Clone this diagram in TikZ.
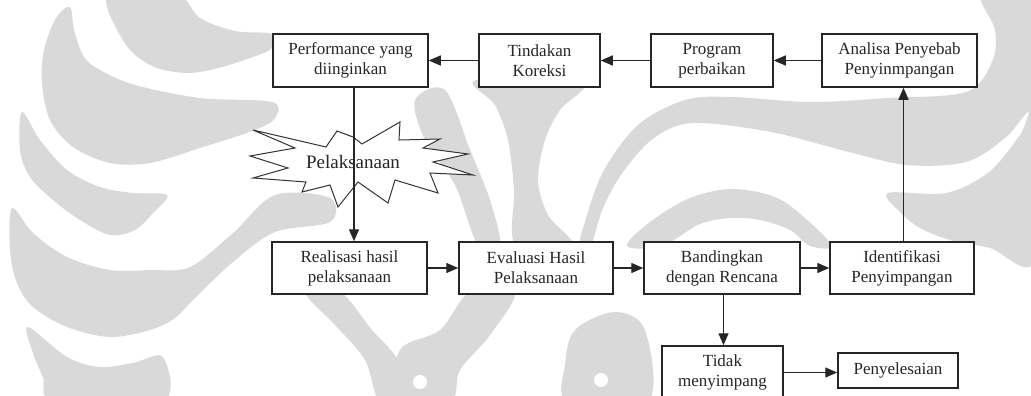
\documentclass[tikz,border=0pt]{standalone}
\usepackage{fontspec}
\setmainfont{Liberation Serif}
\usetikzlibrary{arrows.meta,calc}
\begin{document}
\begin{tikzpicture}[x=1pt,y=-1pt,
  box/.style={draw=black!85,line width=1.5pt,fill=white,inner sep=0pt,align=center,
    text=black!85,font=\fontsize{17}{20}\selectfont},
  flow/.style={draw=black!85,line width=1.4pt,-{Triangle[length=12pt,width=10pt]}},
  burst/.style={draw=black!80,line width=1pt,fill=white,line join=miter},
  wm/.style={fill=black!15,draw=none}]
\useasboundingbox (0,0) rectangle (1031,396);
\clip (0,0) rectangle (1031,396);
\fill[white] (0,0) rectangle (1031,396);

% light grey emblem in the background
\fill[wm] plot[smooth cycle,tension=0.55] coordinates {(108,-6) (176,-6) (200,18) (235,31)
  (272,34) (272,48) (253,57) (218,68) (187,73) (152,66) (124,42)};
\fill[wm] plot[smooth cycle,tension=0.55] coordinates {(70,7) (56,18) (44,50) (42,83)
  (50,120) (73,147) (110,163) (150,163) (200,148) (255,130) (275,118) (272,102) (200,98)
  (135,85) (100,70) (84,57) (74,30)};
\fill[wm] plot[smooth cycle,tension=0.55] coordinates {(22,112) (20,150) (30,177) (53,200)
  (80,220) (110,235) (135,230) (153,213) (167,195) (133,193) (100,187) (67,170) (40,140)};
\fill[wm] plot[smooth cycle,tension=0.55] coordinates {(12,208) (10,250) (17,283) (33,307)
  (67,327) (110,337) (150,330) (175,318) (195,298) (233,262) (275,232) (330,222) (330,198)
  (275,195) (233,233) (190,267) (150,270) (110,270) (67,257) (33,233)};
\fill[wm] plot[smooth cycle,tension=0.55] coordinates {(28,327) (33,353) (43,377) (55,402)
  (162,402) (163,357) (133,363) (100,367) (67,357)};
\fill[wm] plot[smooth cycle,tension=0.55] coordinates {(415,100) (445,90) (470,150) (490,200)
  (500,245) (478,245) (455,185) (425,140)};
\fill[wm] plot[smooth cycle,tension=0.55] coordinates {(476,80) (584,80) (560,110) (545,140)
  (538,180) (548,215) (572,245) (516,245) (514,190) (508,140) (495,105)};
\fill[wm] plot[smooth cycle,tension=0.55] coordinates {(580,245) (584,225) (603,172) (638,125)
  (685,100) (732,97) (810,102) (888,98) (966,92) (992,62) (995,30) (982,-6) (1040,-6)
  (1040,112) (1028,112) (1005,138) (966,162) (907,165) (849,152) (771,132) (693,123)
  (654,138) (623,172) (603,208) (591,245)};
\fill[wm] plot[smooth cycle,tension=0.55] coordinates {(888,193) (946,193) (989,172)
  (1020,135) (1035,110) (1035,260) (990,248) (950,240) (920,228) (900,212)};
\fill[wm] plot[smooth cycle,tension=0.55] coordinates {(627,246) (650,222) (690,198)
  (732,189) (775,197) (805,218) (832,246) (810,246) (790,230) (760,220) (732,218)
  (700,224) (662,246)};
% lower centre of the emblem
\fill[wm] plot[smooth cycle,tension=0.55] coordinates {(305,292) (340,292) (372,330)
  (398,360) (412,402) (380,402) (365,360) (335,325)};
\fill[wm] plot[smooth cycle,tension=0.55] coordinates {(470,292) (515,292) (490,335)
  (460,370) (450,402) (395,402) (400,350) (440,330)};
\fill[wm] plot[smooth cycle,tension=0.55] coordinates {(575,330) (615,312) (645,330)
  (648,402) (568,402) (565,365)};
\fill[white] (420,382) circle[radius=7pt];
\fill[white] (601,380) circle[radius=7pt];

% top row
\node[box,minimum width=155pt,minimum height=53pt] (perf) at (350.5,60.5) {Performance yang\\diinginkan};
\node[box,minimum width=121pt,minimum height=53pt] (tind) at (539.5,60.5) {Tindakan\\Koreksi};
\node[box,minimum width=122pt,minimum height=53pt] (prog) at (712,60.5) {Program\\perbaikan};
\node[box,minimum width=155pt,minimum height=53pt] (anal) at (899.5,60.5) {Analisa Penyebab\\Penyinmpangan};

% middle row
\node[box,minimum width=155pt,minimum height=52pt] (real) at (349.5,268) {Realisasi hasil\\pelaksanaan};
\node[box,minimum width=154pt,minimum height=52pt] (eval) at (536,268) {Evaluasi Hasil\\Pelaksanaan};
\node[box,minimum width=156pt,minimum height=52pt] (band) at (722,268) {Bandingkan\\dengan Rencana};
\node[box,minimum width=144pt,minimum height=52pt] (iden) at (902,268) {Identifikasi\\Penyimpangan};

% bottom row
\node[box,minimum width=121pt,minimum height=53pt] (tidak) at (722.5,372.5) {Tidak\\menyimpang};
\node[box,minimum width=120pt,minimum height=35pt] (peny) at (898,370.5) {Penyelesaian};

% starburst behind the execution step
\draw[burst] (253,130) -- (326,147) -- (337,131) -- (353,137) -- (362,144) -- (400,122)
  -- (399,140) -- (440,139) -- (423,148) -- (468,154) -- (433,162) -- (473,175)
  -- (430,173) -- (438,193) -- (395,180) -- (388,203) -- (358,182) -- (338,207)
  -- (330,185) -- (302,192) -- (306,182) -- (253,178) -- (288,168) -- (250,156)
  -- (295,148) -- cycle;
\node[text=black!85,font=\fontsize{19}{22}\selectfont] (pel) at (353,162) {Pelaksanaan};

% connectors
\draw[flow] (tind.west) -- (perf.east);
\draw[flow] (prog.west) -- (tind.east);
\draw[flow] (anal.west) -- (prog.east);
\coordinate (perfdrop) at ([xshift=3.5pt]perf.south);
\draw[flow] (perfdrop) -- (perfdrop |- real.north);
\draw[flow] (real.east) -- (eval.west);
\draw[flow] (eval.east) -- (band.west);
\draw[flow] (band.east) -- (iden.west);
\coordinate (idenrise) at ([xshift=1.5pt]iden.north);
\draw[flow] (idenrise) -- (idenrise |- anal.south);
\coordinate (banddrop) at ([xshift=1.5pt]band.south);
\draw[flow] (banddrop) -- (banddrop |- tidak.north);
\draw[flow] (tidak.east) -- (tidak.east -| peny.west);
\end{tikzpicture}
\end{document}
